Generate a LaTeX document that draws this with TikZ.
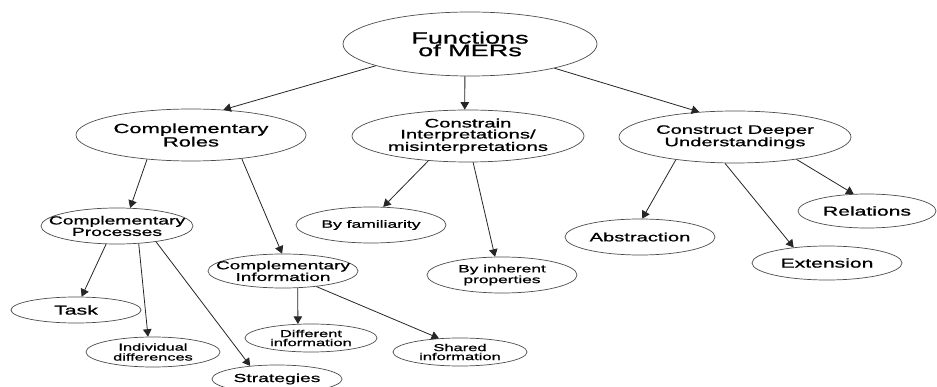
\documentclass[tikz,border=0pt]{standalone}
\usepackage{fontspec}
\usetikzlibrary{shapes.geometric,arrows.meta}
\newfontfamily\mfont[FakeStretch=1.65,FakeBold=1.0]{Liberation Sans}
\newcommand\fs[2]{\mfont\fontsize{#1}{#2}\selectfont}
\begin{document}
\begin{tikzpicture}[x=1pt,y=-1pt,
  ell/.style={draw=black!70, line width=0.7pt, shape=ellipse, inner sep=0pt},
  lbl/.style={align=center, inner sep=0pt, text=black},
  arr/.style={-{Triangle[length=7.5pt,width=8.5pt]}, line width=0.8pt, draw=black!85}]
\useasboundingbox[fill=white] (0,0) rectangle (937,387);
% ellipses
\node[ell, minimum width=254pt, minimum height=64pt] (root) at (470,44) {};
\node[ell, minimum width=230pt, minimum height=52pt] (cr) at (191,135) {};
\node[ell, minimum width=232pt, minimum height=52pt] (con) at (468,136) {};
\node[ell, minimum width=232pt, minimum height=52pt] (cdu) at (735,137) {};
\node[ell, minimum width=152pt, minimum height=36pt] (cp) at (117,226) {};
\node[ell, minimum width=130pt, minimum height=26pt] (task) at (76,310) {};
\node[ell, minimum width=134pt, minimum height=30pt] (ind) at (153,352) {};
\node[ell, minimum width=130pt, minimum height=28pt] (str) at (277,379) {};
\node[ell, minimum width=150pt, minimum height=34pt] (ci) at (283,271) {};
\node[ell, minimum width=132pt, minimum height=28pt] (dif) at (311,338) {};
\node[ell, minimum width=134pt, minimum height=28pt] (sha) at (460,352) {};
\node[ell, minimum width=150pt, minimum height=36pt] (fam) at (371,225) {};
\node[ell, minimum width=150pt, minimum height=36pt] (inh) at (502,275) {};
\node[ell, minimum width=150pt, minimum height=36pt] (abs) at (640,237) {};
\node[ell, minimum width=150pt, minimum height=34pt] (ext) at (827,263) {};
\node[ell, minimum width=138pt, minimum height=34pt] (rel) at (867,211) {};
% labels
\node[lbl, font=\fs{16.4}{12.5}] (rootT) at (root) {Functions\\of MERs};
\node[lbl, font=\fs{13.3}{10.5}] (crT) at (cr) {Complementary\\Roles};
\node[lbl, font=\fs{12.3}{11}] (conT) at (con) {Constrain\\Interpretations/\\misinterpretations};
\node[lbl, font=\fs{12.2}{10.5}] (cduT) at (cdu) {Construct Deeper\\Understandings};
\node[lbl, font=\fs{11.7}{10}] (cpT) at (cp) {Complementary\\Processes};
\node[lbl, font=\fs{12.9}{12}] (taskT) at (task) {Task};
\node[lbl, font=\fs{9.9}{10}] (indT) at (ind) {Individual\\differences};
\node[lbl, font=\fs{11.7}{12}] (strT) at (str) {Strategies};
\node[lbl, font=\fs{11.5}{9.5}] (ciT) at (ci) {Complementary\\Information};
\node[lbl, font=\fs{10}{9}] (difT) at (dif) {Different\\information};
\node[lbl, font=\fs{10}{9}] (shaT) at (sha) {Shared\\information};
\node[lbl, font=\fs{10.6}{12}] (famT) at (fam) {By familiarity};
\node[lbl, font=\fs{10.5}{9}] (inhT) at (inh) {By inherent\\properties};
\node[lbl, font=\fs{12.2}{12}] (absT) at (abs) {Abstraction};
\node[lbl, font=\fs{12.8}{12}] (extT) at (ext) {Extension};
\node[lbl, font=\fs{12.8}{12}] (relT) at (rel) {Relations};
% connectors
\draw[arr] (root.193) -- (cr.38);
\draw[arr] (root.261) -- (con.97);
\draw[arr] (root.344) -- (cdu.145);
\draw[arr] (cr.209) -- (cp.54);
\draw[arr] (cr.335) -- (ci.93);
\draw[arr] (con.212) -- (fam.56);
\draw[arr] (con.281) -- (inh.111);
\draw[arr] (cdu.201) -- (abs.83);
\draw[arr] (cdu.249) -- (ext.155);
\draw[arr] (cdu.340) -- (rel.128);
\draw[arr] (cp.239) -- (task.67);
\draw[arr] (cp.321) -- (ind.108);
\draw[arr] (cp.338) -- (str.154);
\draw[arr] (ci.311) -- (dif.133);
\draw[arr] (ci.335) -- (sha.147);
\end{tikzpicture}
\end{document}
